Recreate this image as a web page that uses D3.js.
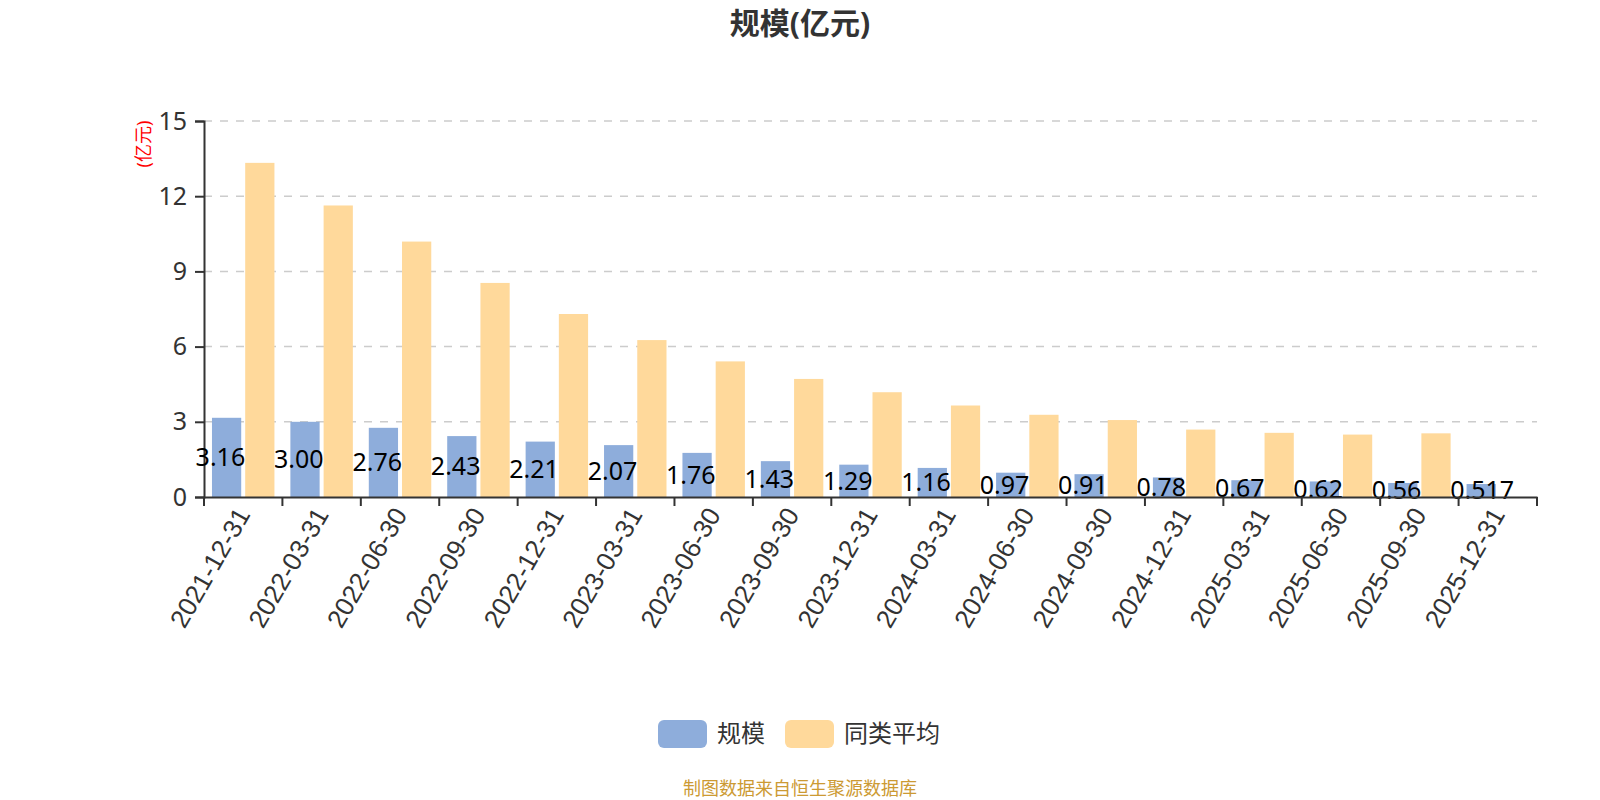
<!DOCTYPE html>
<html>
<head>
<meta charset="utf-8">
<script src="https://cdn.jsdelivr.net/npm/d3@7"></script>
<style>
  body { margin: 0; background: #fff; }
  svg { font-family: "Noto Sans", "Noto Sans CJK SC", sans-serif; }
</style>
</head>
<body>
<svg id="chart" width="1600" height="800"></svg>
<script>
// data
const categories = [
  "2021-12-31", "2022-03-31", "2022-06-30", "2022-09-30", "2022-12-31",
  "2023-03-31", "2023-06-30", "2023-09-30", "2023-12-31", "2024-03-31",
  "2024-06-30", "2024-09-30", "2024-12-31", "2025-03-31", "2025-06-30",
  "2025-09-30", "2025-12-31"
];
const scaleValues = [3.16, 3.00, 2.76, 2.43, 2.21, 2.07, 1.76, 1.43, 1.29, 1.16,
  0.97, 0.91, 0.78, 0.67, 0.62, 0.56, 0.517];
const scaleLabels = ["3.16", "3.00", "2.76", "2.43", "2.21", "2.07", "1.76", "1.43", "1.29", "1.16",
  "0.97", "0.91", "0.78", "0.67", "0.62", "0.56", "0.517"];
const avgValues = [13.33, 11.63, 10.19, 8.54, 7.30, 6.26, 5.41, 4.71, 4.18, 3.65,
  3.28, 3.07, 2.69, 2.56, 2.49, 2.54, null];
const seriesNames = ["规模", "同类平均"];
const yTicks = [0, 3, 6, 9, 12, 15];

const colors = { "规模": "#8eaddb", "同类平均": "#ffd99b" };

const svg = d3.select("#chart");
const plotLeft = 204, plotRight = 1537, plotTop = 121, plotBottom = 497;

const x = d3.scaleBand().domain(categories).range([plotLeft, plotRight]).padding(0);
const xs = d3.scaleBand().domain(seriesNames).range([0, x.bandwidth()])
  .paddingInner(0.12).paddingOuter(0.24);
const y = d3.scaleLinear().domain([0, 15]).range([plotBottom, plotTop]);

// title
svg.append("text")
  .attr("x", 800).attr("y", 34)
  .attr("text-anchor", "middle")
  .attr("font-size", 30).attr("font-weight", "bold")
  .attr("fill", "#333")
  .text("规模(亿元)");

// unit label
svg.append("text")
  .attr("transform", "translate(150,144) rotate(-90)")
  .attr("text-anchor", "middle")
  .attr("font-size", 18)
  .attr("fill", "#f00")
  .text("(亿元)");

// grid
svg.append("g")
  .selectAll("line")
  .data(yTicks.filter(d => d > 0))
  .join("line")
  .attr("x1", plotLeft).attr("x2", plotRight)
  .attr("y1", d => y(d)).attr("y2", d => y(d))
  .attr("stroke", "#ccc").attr("stroke-width", 1.5)
  .attr("stroke-dasharray", "8,8");

// y axis
const yAxis = svg.append("g")
  .attr("transform", `translate(${plotLeft},0)`)
  .call(d3.axisLeft(y).tickValues(yTicks).tickSize(9).tickPadding(8));
yAxis.select(".domain").attr("stroke", "#333").attr("stroke-width", 2);
yAxis.selectAll(".tick line").attr("stroke", "#333").attr("stroke-width", 2);
yAxis.selectAll(".tick text")
  .attr("font-size", 25).attr("fill", "#333")
  .attr("font-family", "Noto Sans, sans-serif");

// blue bars
svg.append("g")
  .selectAll("rect")
  .data(scaleValues)
  .join("rect")
  .attr("x", (d, i) => x(categories[i]) + xs("规模"))
  .attr("width", xs.bandwidth())
  .attr("y", d => y(d))
  .attr("height", d => plotBottom - y(d))
  .attr("fill", colors["规模"]);

// blue labels (drawn below the yellow bars, as in the source)
const labelBox = 62;
svg.append("g")
  .selectAll("text")
  .data(scaleValues)
  .join("text")
  .attr("x", (d, i) => x(categories[i]) + xs("规模") + xs.bandwidth() / 2 - labelBox / 2)
  .attr("y", d => (y(d) + plotBottom) / 2)
  .attr("dy", "0.35em")
  .attr("font-size", 25)
  .attr("fill", "#000")
  .text((d, i) => scaleLabels[i]);

// yellow bars
svg.append("g")
  .selectAll("rect")
  .data(avgValues.map((v, i) => ({ v, c: categories[i] })).filter(d => d.v != null))
  .join("rect")
  .attr("x", d => x(d.c) + xs("同类平均"))
  .attr("width", xs.bandwidth())
  .attr("y", d => y(d.v))
  .attr("height", d => plotBottom - y(d.v))
  .attr("fill", colors["同类平均"]);

// x axis
const xAxis = svg.append("g")
  .attr("transform", `translate(0,${plotBottom})`)
  .call(d3.axisBottom(x).tickSize(0).tickPadding(0));
xAxis.select(".domain").attr("stroke", "#333").attr("stroke-width", 2);
xAxis.selectAll(".tick line").remove();
xAxis.selectAll(".tick text")
  .attr("font-size", 26).attr("fill", "#333")
  .attr("text-anchor", "end")
  .attr("dy", "0.35em")
  .attr("transform", "translate(0,13) rotate(-60)");

// x ticks at band boundaries
const bounds = categories.map(c => x(c)).concat([plotRight]);
svg.append("g")
  .selectAll("line")
  .data(bounds)
  .join("line")
  .attr("x1", d => d).attr("x2", d => d)
  .attr("y1", plotBottom).attr("y2", plotBottom + 9)
  .attr("stroke", "#333").attr("stroke-width", 2);

// legend
const legend = svg.append("g");
const legendItems = [
  { name: "规模", x: 658 },
  { name: "同类平均", x: 785 }
];
legendItems.forEach(it => {
  legend.append("rect")
    .attr("x", it.x).attr("y", 720)
    .attr("width", 49).attr("height", 28)
    .attr("rx", 6)
    .attr("fill", colors[it.name]);
  legend.append("text")
    .attr("x", it.x + 59).attr("y", 734)
    .attr("dy", "0.35em")
    .attr("font-size", 24).attr("fill", "#333")
    .text(it.name);
});

// source note
svg.append("text")
  .attr("x", 800).attr("y", 795)
  .attr("text-anchor", "middle")
  .attr("font-size", 18)
  .attr("fill", "#cc9a33")
  .text("制图数据来自恒生聚源数据库");
</script>
</body>
</html>
